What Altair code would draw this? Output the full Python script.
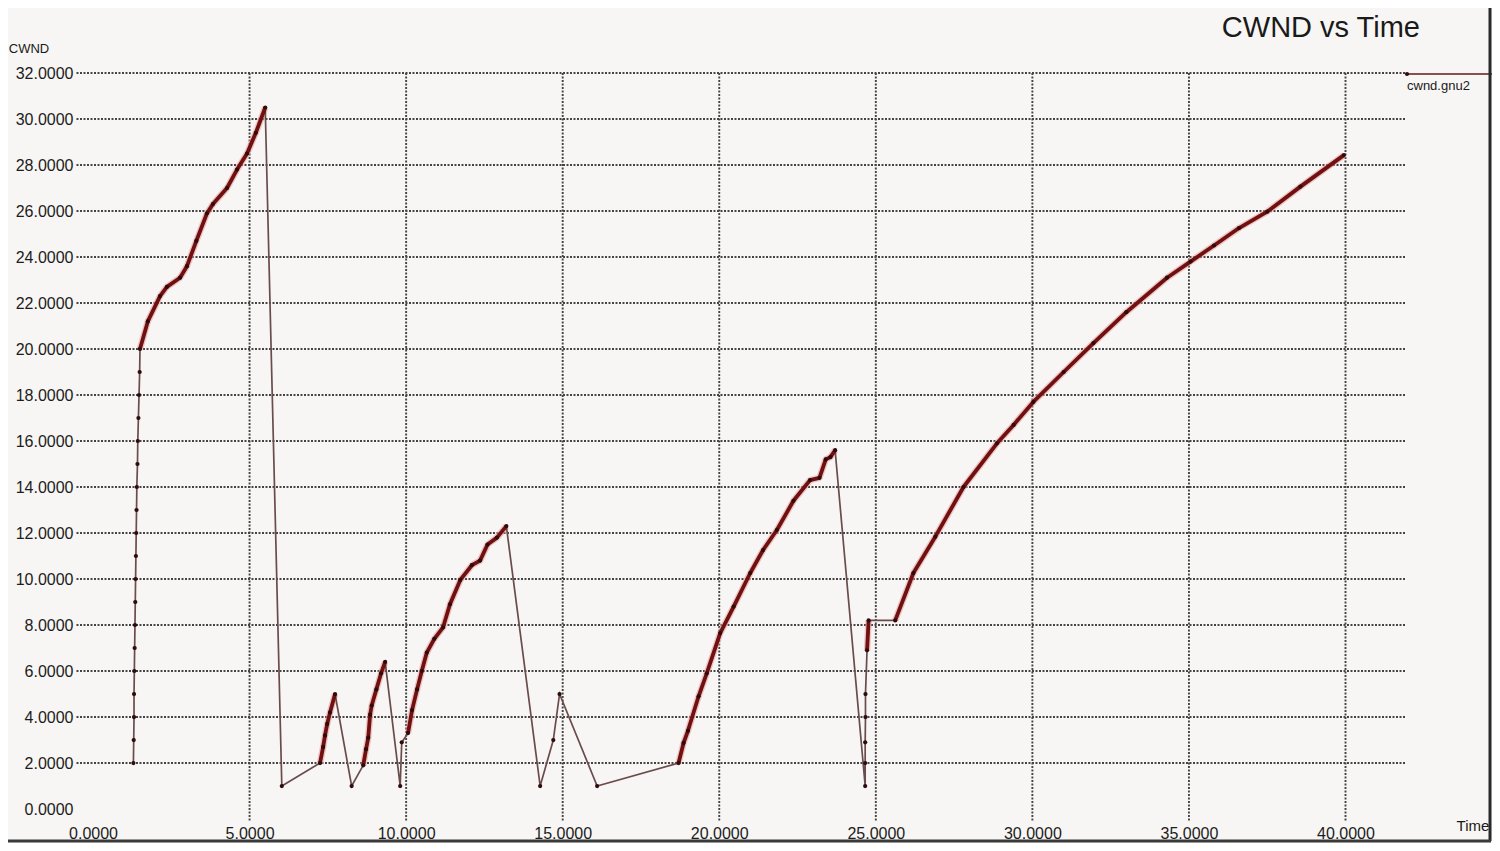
import altair as alt
import pandas as pd

# ---- data ----
time = [1.29, 1.30, 1.31, 1.31, 1.32, 1.33, 1.34, 1.35, 1.36, 1.37, 1.38, 1.39, 1.40, 1.42, 1.43, 1.45, 1.47, 1.49,
        1.50, 1.75, 2.14, 2.36, 2.78, 3.00, 3.30, 3.64, 3.83, 4.28, 4.60, 4.92, 5.20, 5.50,
        6.03,
        7.25, 7.35, 7.41, 7.48, 7.57, 7.73,
        8.26,
        8.63, 8.72, 8.79, 8.85, 8.90, 9.05, 9.20, 9.33,
        9.81, 9.86,
        10.06, 10.19, 10.35, 10.50, 10.66, 10.90, 11.18, 11.40, 11.73, 12.10, 12.36, 12.60, 12.90, 13.20,
        14.28, 14.70, 14.90,
        16.10,
        18.70, 18.86, 19.00, 19.34, 19.60, 20.03, 20.46, 20.99, 21.40, 21.84, 22.37, 22.90, 23.20, 23.40, 23.55, 23.70,
        24.66, 24.66, 24.66, 24.67, 24.67,
        24.72, 24.77,
        25.62, 26.20, 26.90, 27.80, 28.87, 29.40, 30.03, 31.00, 31.95, 33.00, 34.30, 35.05, 35.80, 36.60, 37.50,
        38.56, 39.95]
cwnd = [2.0, 3.0, 4.0, 5.0, 6.0, 7.0, 8.0, 9.0, 10.0, 11.0, 12.0, 13.0, 14.0, 15.0, 16.0, 17.0, 18.0, 19.0,
        20.0, 21.2, 22.3, 22.7, 23.1, 23.6, 24.7, 25.9, 26.3, 27.0, 27.8, 28.5, 29.4, 30.5,
        1.0,
        2.0, 2.7, 3.2, 3.7, 4.2, 5.0,
        1.0,
        1.9, 2.6, 3.1, 4.1, 4.5, 5.2, 5.9, 6.4,
        1.0, 2.9,
        3.3, 4.3, 5.2, 6.0, 6.8, 7.4, 7.9, 8.9, 9.96, 10.6, 10.8, 11.5, 11.8, 12.3,
        1.0, 3.0, 5.0,
        1.0,
        2.0, 2.87, 3.4, 4.9, 5.9, 7.65, 8.8, 10.26, 11.26, 12.13, 13.4, 14.3, 14.4, 15.2, 15.3, 15.6,
        1.0, 2.0, 2.9, 4.0, 5.0,
        6.9, 8.2,
        8.2, 10.26, 11.84, 14.0, 15.9, 16.7, 17.7, 19.0, 20.26, 21.6, 23.1, 23.8, 24.5, 25.26, 25.97,
        27.06, 28.43]
# run id for the densely sampled (thick red) stretches, 0 = sparse points only
run = [0] * 18 + [1] * 14 + [0] + [2] * 6 + [0] + [3] * 8 + [0, 0] + [4] * 14 + [0, 0, 0] + [0] + \
      [5] * 16 + [0] * 5 + [6, 6] + [7] * 17

x_ticks = [0, 5, 10, 15, 20, 25, 30, 35, 40]
y_ticks = [0, 2, 4, 6, 8, 10, 12, 14, 16, 18, 20, 22, 24, 26, 28, 30, 32]
grid_x = [5, 10, 15, 20, 25, 30, 35, 40]
grid_y = [2, 4, 6, 8, 10, 12, 14, 16, 18, 20, 22, 24, 26, 28, 30, 32]

df = pd.DataFrame({"t": time, "cwnd": cwnd, "run": run})
df["i"] = range(len(df))
df_red = df[df["run"] > 0]

X_DOM = [-0.575, 41.9]
Y_DOM = [-0.565, 32]
W, H = 1330, 749

lab_font = "Liberation Sans"
xscale = alt.Scale(domain=X_DOM, nice=False, zero=False)
yscale = alt.Scale(domain=Y_DOM, nice=False, zero=False)

x_enc = alt.X("t:Q", scale=xscale,
              axis=alt.Axis(values=x_ticks, format=".4f", title=None, grid=False, domain=False, ticks=False,
                            labelFont=lab_font, labelFontSize=16, labelColor="#1c1c1c", labelPadding=3,
                            labelFlush=False))
y_enc = alt.Y("cwnd:Q", scale=yscale,
              axis=alt.Axis(values=y_ticks, format=".4f", title=None, grid=False, domain=False, ticks=False,
                            labelFont=lab_font, labelFontSize=16, labelColor="#1c1c1c", labelPadding=2,
                            labelFlush=False))

grid_dash = [2, 1.5]
vgrid = alt.Chart(pd.DataFrame({"g": grid_x})).mark_rule(
    color="#444444", strokeWidth=1.9, strokeDash=grid_dash
).encode(x=alt.X("g:Q", scale=xscale))
hgrid = alt.Chart(pd.DataFrame({"g": grid_y})).mark_rule(
    color="#444444", strokeWidth=1.9, strokeDash=grid_dash
).encode(y=alt.Y("g:Q", scale=yscale))

base = alt.Chart(df)
thin = base.mark_line(color="#6a4c4c", strokeWidth=1.7).encode(x=x_enc, y=y_enc, order="i:Q")
halo = alt.Chart(df_red).mark_line(color="#e59a9a", strokeWidth=6.5, opacity=0.55, strokeJoin="round").encode(
    x=alt.X("t:Q", scale=xscale), y=alt.Y("cwnd:Q", scale=yscale), detail="run:N", order="i:Q")
red = alt.Chart(df_red).mark_line(color="#701010", strokeWidth=3.8, strokeJoin="round").encode(
    x=alt.X("t:Q", scale=xscale), y=alt.Y("cwnd:Q", scale=yscale), detail="run:N", order="i:Q")
dots = base.mark_circle(color="#2e0c0c", size=18, opacity=1).encode(
    x=alt.X("t:Q", scale=xscale), y=alt.Y("cwnd:Q", scale=yscale))

# annotation texts (pixel positions relative to the plot area)
def label(txt, x, y, size, align="center", weight="normal"):
    return alt.Chart(pd.DataFrame({"s": [txt]})).mark_text(
        font=lab_font, fontSize=size, align=align, baseline="middle", color="#1a1a1a", fontWeight=weight
    ).encode(x=alt.value(x), y=alt.value(y), text="s:N")

title = label("CWND vs Time", 1345, -45, 29, align="right")
ylab = label("CWND", -46, -24, 13)
xlab = label("Time", 1398, 753, 15)
leg_txt = label("cwnd.gnu2", 1332, 13, 13, align="left")
leg_line = alt.Chart(pd.DataFrame({"a": [0]})).mark_rule(color="#8a5050", strokeWidth=1.8).encode(
    x=alt.value(1332), x2=alt.value(1417), y=alt.value(1))
leg_dot = alt.Chart(pd.DataFrame({"a": [0]})).mark_circle(color="#2e0c0c", size=18, opacity=1).encode(
    x=alt.value(1332), y=alt.value(1))

right_border = alt.Chart(pd.DataFrame({"a": [0]})).mark_rule(color="#2a2a2a", strokeWidth=3).encode(
    x=alt.value(1415), y=alt.value(-65), y2=alt.value(768))
bottom_border = alt.Chart(pd.DataFrame({"a": [0]})).mark_rule(color="#3a3a3a", strokeWidth=3).encode(
    x=alt.value(-67), x2=alt.value(1416), y=alt.value(768))

chart = alt.layer(
    vgrid, hgrid, halo, thin, red, dots, title, ylab, xlab, leg_line, leg_dot, leg_txt,
    right_border, bottom_border
).properties(
    width=W, height=H,
    autosize=alt.AutoSizeParams(type="none"),
    padding={"left": 67, "top": 65, "right": 87, "bottom": 21},
    background="#f7f6f4"
).configure_view(stroke=None)

chart.save("out.html", embed_options={"renderer": "svg", "actions": False})
